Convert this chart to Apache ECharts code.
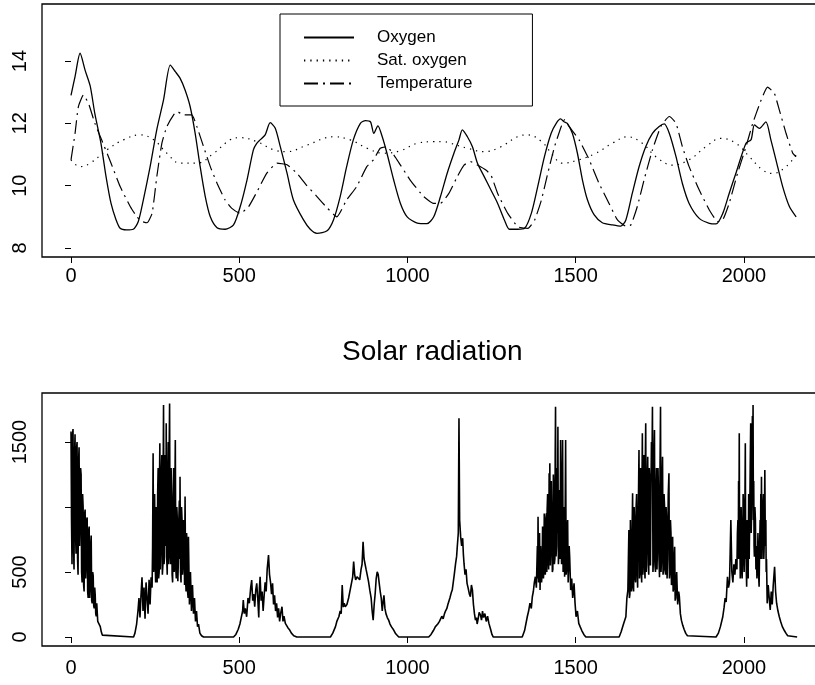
<!DOCTYPE html>
<html>
<head>
<meta charset="utf-8">
<script src="https://cdn.jsdelivr.net/npm/echarts@6/dist/echarts.min.js"></script>
<style>
  html, body { margin: 0; padding: 0; background: #fff; }
  #main { width: 815px; height: 685px; }
</style>
</head>
<body>
<div id="main"></div>
<script>
// 读图得到的数据 [x, 值]
const oxygen = [
  [0, 12.9], [12, 13.5], [27, 14.25], [42, 13.7], [57, 13.2], [71, 12.3], [89, 11.36], [104, 10.3],
  [119, 9.43], [134, 8.9], [146, 8.63], [165, 8.58], [185, 8.6], [200, 8.85], [215, 9.54], [235, 10.6],
  [255, 11.8], [275, 12.75], [295, 13.87], [310, 13.66], [324, 13.45], [339, 13.07], [354, 12.54],
  [369, 11.68], [384, 10.6], [399, 9.65], [414, 9.0], [434, 8.65], [458, 8.6], [483, 8.74], [503, 9.33],
  [523, 10.18], [542, 11.15], [552, 11.36], [562, 11.47], [577, 11.63], [592, 12.02], [607, 11.84],
  [622, 11.25], [642, 10.4], [661, 9.54], [691, 8.9], [711, 8.6], [731, 8.47], [761, 8.55], [780, 8.9],
  [800, 9.65], [819, 10.6], [839, 11.47], [860, 12.0], [875, 12.09], [890, 12.05], [900, 11.68],
  [912, 11.92], [925, 11.57], [939, 11.04], [959, 10.18], [979, 9.43], [999, 9.0], [1029, 8.8],
  [1058, 8.78], [1078, 9.0], [1098, 9.65], [1118, 10.4], [1138, 11.04], [1153, 11.47], [1163, 11.79],
  [1178, 11.57], [1193, 11.25], [1208, 10.72], [1228, 10.29], [1248, 9.86], [1268, 9.43], [1288, 8.9],
  [1303, 8.6], [1328, 8.6], [1348, 8.63], [1368, 9.11], [1387, 9.97], [1407, 10.93], [1427, 11.68],
  [1442, 12.0], [1455, 12.14], [1465, 12.05], [1475, 12.0], [1490, 11.68], [1505, 11.04], [1520, 10.18],
  [1535, 9.54], [1555, 9.06], [1579, 8.81], [1609, 8.74], [1634, 8.7], [1649, 8.9], [1668, 9.75],
  [1688, 10.6], [1708, 11.25], [1728, 11.68], [1748, 11.9], [1763, 11.98], [1778, 11.68], [1798, 10.93],
  [1817, 10.07], [1837, 9.43], [1867, 8.95], [1897, 8.79], [1917, 8.77], [1937, 9.11], [1956, 9.75],
  [1976, 10.4], [2006, 11.36], [2021, 11.47], [2031, 11.95], [2046, 11.84], [2065, 12.05], [2080, 11.47],
  [2095, 10.83], [2115, 9.97], [2135, 9.33], [2155, 9.0]
];

const satOxygen = [
  [0, 10.83], [27, 10.61], [57, 10.72], [107, 11.15], [156, 11.47], [206, 11.63], [246, 11.47],
  [285, 11.04], [324, 10.72], [374, 10.72], [424, 11.04], [473, 11.47], [503, 11.54], [553, 11.41],
  [602, 11.15], [642, 11.09], [701, 11.3], [780, 11.57], [830, 11.47], [880, 11.2], [929, 11.04],
  [979, 11.12], [1029, 11.36], [1078, 11.41], [1107, 11.41], [1128, 11.36], [1178, 11.2], [1228, 11.09],
  [1278, 11.25], [1327, 11.57], [1357, 11.63], [1400, 11.4], [1430, 11.0], [1460, 10.72], [1510, 10.83],
  [1560, 11.04], [1609, 11.36], [1654, 11.57], [1698, 11.36], [1738, 10.93], [1788, 10.66], [1837, 10.83],
  [1887, 11.25], [1932, 11.52], [1976, 11.36], [2016, 10.93], [2056, 10.5], [2085, 10.39], [2125, 10.61],
  [2155, 10.99]
];

const temperature = [
  [0, 10.83], [12, 11.68], [22, 12.54], [37, 12.91], [52, 12.64], [71, 12.0], [91, 11.47], [119, 10.72],
  [146, 9.97], [176, 9.33], [196, 9.0], [211, 8.85], [226, 8.81], [241, 9.11], [255, 10.29], [270, 11.36],
  [285, 11.9], [305, 12.27], [315, 12.38], [335, 12.27], [359, 12.27], [374, 11.9], [394, 11.25],
  [414, 10.61], [434, 10.08], [458, 9.54], [478, 9.27], [503, 9.11], [528, 9.33], [553, 9.81], [582, 10.4],
  [612, 10.72], [642, 10.67], [671, 10.4], [701, 10.0], [731, 9.65], [760, 9.3], [790, 9.0], [819, 9.54],
  [849, 9.97], [879, 10.61], [899, 10.83], [919, 11.2], [939, 11.25], [969, 10.83], [1008, 10.18],
  [1048, 9.65], [1078, 9.43], [1098, 9.43], [1123, 9.75], [1148, 10.29], [1168, 10.66], [1188, 10.77],
  [1208, 10.66], [1233, 10.5], [1248, 10.34], [1268, 9.75], [1298, 9.11], [1328, 8.68], [1358, 8.63],
  [1378, 8.9], [1398, 9.54], [1417, 10.4], [1437, 11.25], [1457, 11.9], [1467, 12.12], [1480, 11.9],
  [1510, 11.47], [1540, 10.83], [1569, 10.08], [1599, 9.43], [1624, 8.9], [1649, 8.7], [1664, 8.74],
  [1683, 9.33], [1703, 10.18], [1728, 11.15], [1753, 11.9], [1778, 12.22], [1798, 12.0], [1817, 11.25],
  [1837, 10.61], [1867, 9.86], [1897, 9.22], [1922, 8.85], [1937, 8.9], [1956, 9.43], [1981, 10.4],
  [2006, 11.25], [2026, 12.0], [2051, 12.75], [2070, 13.16], [2090, 12.97], [2105, 12.43], [2125, 11.68],
  [2145, 11.04], [2155, 10.93]
];

const solar = [
  // 第 1 段
  [0, 1580], [1.5, 900], [3, 560], [4.5, 1550], [6, 1600], [7.5, 700], [9, 520], [10.5, 1400], [12, 1560],
  [13.5, 800], [15, 640], [16.5, 1450], [18, 1500], [19.5, 600], [21, 480], [22.5, 1350], [24, 1460],
  [25.5, 700], [27, 900], [28.5, 1300], [30, 1250], [31.5, 500], [33, 420], [34.5, 1100], [36, 1000],
  [37.5, 400], [39, 350], [40.5, 950], [42, 980], [43.5, 450], [45, 560], [46.5, 900], [48, 920],
  [49.5, 350], [51, 300], [52.5, 820], [54, 850], [55.5, 300], [57, 380], [58.5, 700], [60, 780],
  [61.5, 280], [63, 260], [64.5, 500], [66, 470], [67.5, 240], [69, 220], [70.5, 380], [72, 320],
  [73.5, 180], [75, 160], [76.5, 260], [78, 250], [79.5, 120], [81, 110], [84, 120], [87, 80], [90, 40],
  [93, 15], [96, 0], [186, 0],
  // 第 2 段
  [190, 30], [195, 100], [199, 200], [202, 300], [205, 150], [208, 320], [211, 460], [214, 200],
  [217, 380], [220, 140], [223, 420], [226, 300], [229, 180], [232, 440], [235, 250], [238, 460],
  [241, 380], [242.5, 700], [244, 1413], [245.5, 500], [247, 560], [248.5, 1100], [250, 600], [251.5, 420],
  [253, 1000], [254.5, 650], [256, 420], [257.5, 1100], [259, 1300], [260.5, 450], [262, 500], [263, 1200],
  [264, 1490], [265.5, 520], [267, 700], [268.5, 1250], [270, 1400], [271.5, 480], [273, 550], [274, 1300],
  [275, 1785], [276.5, 560], [278, 620], [279.5, 1400], [281, 1200], [282, 700], [283, 1644], [284.5, 600],
  [286, 480], [287.5, 1200], [289, 1500], [290, 560], [291, 700], [292, 1500], [293, 1797], [294.5, 650],
  [296, 560], [297.5, 1300], [299, 1100], [300.5, 480], [302, 420], [303.5, 1000], [305, 1300], [306.5, 500],
  [308, 600], [309, 1200], [310, 1515], [311.5, 520], [313, 450], [314.5, 1000], [316, 900], [317.5, 430],
  [319, 580], [320.5, 900], [322, 1050], [323, 600], [324, 1233], [325.5, 500], [327, 420], [328.5, 1000],
  [330, 900], [331.5, 480], [333, 560], [334.5, 900], [336, 800], [337.5, 400], [339, 1080], [340.5, 450],
  [342, 350], [343.5, 800], [345, 700], [346.5, 350], [348, 300], [349, 772], [352, 250], [355, 500],
  [358, 200], [361, 400], [364, 180], [367, 300], [370, 120], [373, 200], [376, 80], [379, 100], [383, 30],
  [388, 10], [394, 0], [483, 0],
  // 第 3 段
  [490, 20], [497, 60], [502, 100], [506, 90], [510, 200], [512, 285], [515, 180], [518, 220],
  [522, 156], [526, 300], [530, 260], [534, 380], [537, 438], [540, 280], [543, 330], [546, 233],
  [549, 360], [552, 413], [555, 300], [558, 150], [560, 380], [562, 464], [565, 280], [568, 350],
  [571, 200], [574, 320], [577, 420], [580, 350], [583, 520], [587, 630], [590, 480], [593, 420],
  [596, 330], [599, 413], [602, 250], [605, 320], [608, 200], [611, 259], [614, 150], [617, 220],
  [620, 120], [623, 180], [627, 233], [630, 120], [633, 160], [637, 105], [641, 90], [645, 70],
  [650, 54], [655, 30], [662, 10], [671, 0], [771, 0],
  // 第 4 段
  [778, 30], [786, 80], [790, 120], [796, 156], [800, 200], [803, 180], [806, 400], [809, 230],
  [812, 260], [815, 233], [820, 250], [825, 300], [830, 285], [834, 420], [837, 460], [840, 580],
  [843, 480], [846, 440], [850, 464], [854, 470], [858, 440], [862, 520], [865, 560], [868, 733],
  [871, 600], [874, 560], [877, 520], [880, 515], [884, 430], [888, 360], [892, 300], [895, 200],
  [898, 130], [901, 250], [904, 335], [907, 450], [910, 502], [913, 480], [916, 413], [919, 350],
  [922, 300], [925, 200], [927, 259], [930, 320], [933, 220], [936, 180], [940, 150], [944, 130],
  [948, 100], [952, 80], [959, 54], [965, 25], [974, 0], [1063, 0],
  // 第 5 段
  [1070, 20], [1077, 50], [1083, 80], [1090, 100], [1095, 120], [1098, 130], [1102, 160], [1106, 140],
  [1110, 180], [1113, 200], [1117, 220], [1120, 250], [1123, 259], [1126, 300], [1130, 340], [1133, 361],
  [1136, 420], [1139, 480], [1143, 566], [1146, 620], [1148, 695], [1151, 800], [1153, 1682], [1155, 900],
  [1158, 772], [1161, 700], [1164, 760], [1166, 640], [1168, 566], [1171, 480], [1174, 520], [1177, 413],
  [1180, 380], [1184, 330], [1187, 310], [1190, 400], [1193, 361], [1196, 250], [1199, 180], [1202, 130],
  [1205, 150], [1207, 100], [1210, 140], [1213, 190], [1217, 169], [1220, 130], [1223, 200], [1226, 150],
  [1230, 180], [1234, 120], [1238, 160], [1242, 105], [1247, 60], [1251, 20], [1255, 0], [1341, 0],
  // 第 6 段
  [1348, 50], [1356, 156], [1360, 200], [1364, 260], [1368, 220], [1371, 310], [1374, 350], [1377, 420],
  [1380, 464], [1383, 380], [1386, 700], [1387, 450], [1388, 925], [1389.5, 420], [1391, 480], [1392.5, 800],
  [1394, 361], [1395.5, 700], [1397, 600], [1398.5, 420], [1400, 500], [1401.5, 850], [1403, 746],
  [1404, 450], [1405, 500], [1406.5, 950], [1408, 900], [1409.5, 480], [1411, 560], [1412, 900], [1413, 951],
  [1414, 500], [1415, 977], [1416.5, 1100], [1418, 600], [1419.5, 520], [1421, 1259], [1422, 600],
  [1423, 1336], [1424.5, 550], [1426, 700], [1427.5, 1200], [1429, 874], [1430.5, 500], [1432, 520],
  [1433.5, 1250], [1435, 1100], [1436.5, 560], [1438, 600], [1439, 1400], [1440, 1772], [1441.5, 620],
  [1443, 700], [1444, 1100], [1445, 1300], [1446, 800], [1447, 1618], [1448.5, 560], [1450, 650],
  [1451, 1000], [1452, 1130], [1453.5, 600], [1455, 1515], [1456.5, 700], [1458, 560], [1459.5, 1200],
  [1461, 1515], [1462.5, 500], [1464, 700], [1465.5, 1000], [1467, 464], [1468.5, 900], [1470, 1515],
  [1471.5, 480], [1473, 520], [1474.5, 800], [1476, 900], [1477.5, 420], [1479, 413], [1480.5, 700],
  [1482, 618], [1485, 361], [1488, 450], [1491, 300], [1495, 413], [1498, 259], [1501, 156], [1505, 200],
  [1509, 105], [1513, 80], [1518, 50], [1524, 20], [1530, 0], [1629, 0],
  // 第 7 段
  [1635, 40], [1642, 100], [1649, 156], [1652, 300], [1655, 361], [1656.5, 600], [1658, 823], [1659.5, 300],
  [1661, 330], [1662.5, 900], [1664, 700], [1665.5, 350], [1667, 400], [1668, 900], [1669, 1105],
  [1670.5, 400], [1672, 350], [1673.5, 1000], [1675, 900], [1676.5, 450], [1678, 420], [1679.5, 1000],
  [1681, 1100], [1682.5, 500], [1684, 380], [1685, 800], [1686, 1000], [1687, 1200], [1688, 1438],
  [1689.5, 450], [1691, 500], [1692.5, 1300], [1694, 1200], [1695, 500], [1696, 420], [1697, 1200],
  [1698, 1567], [1699.5, 480], [1701, 600], [1702.5, 1400], [1704, 1300], [1705, 500], [1706, 450],
  [1707, 1400], [1708, 1644], [1709.5, 500], [1711, 700], [1712.5, 1200], [1714, 1387], [1715.5, 550],
  [1717, 480], [1718.5, 1300], [1720, 1200], [1721, 600], [1722, 550], [1723.5, 1100], [1725, 1500],
  [1726.5, 1300], [1728, 1772], [1729.5, 500], [1731, 600], [1732.5, 1400], [1734, 1592], [1735.5, 550],
  [1737, 500], [1738.5, 1100], [1740, 1300], [1741.5, 520], [1743, 700], [1744.5, 1300], [1746, 1100],
  [1747.5, 600], [1749, 460], [1750.5, 1300], [1752, 1772], [1753.5, 500], [1755, 600], [1756.5, 1200],
  [1758, 1387], [1759.5, 480], [1761, 520], [1762.5, 1100], [1764, 1000], [1765.5, 520], [1767, 480],
  [1768.5, 1000], [1770, 900], [1771.5, 450], [1773, 600], [1775, 1100], [1777, 1259], [1778.5, 450],
  [1780, 500], [1781.5, 900], [1783, 800], [1784.5, 400], [1786, 420], [1787, 650], [1788, 772],
  [1789.5, 350], [1791, 380], [1792.5, 600], [1794, 695], [1795.5, 280], [1797, 300], [1800, 500],
  [1803, 250], [1806, 350], [1808, 310], [1811, 180], [1814, 130], [1818, 90], [1822, 60], [1827, 28],
  [1832, 10], [1837, 0], [1917, 0],
  // 第 8 段
  [1924, 30], [1930, 80], [1937, 156], [1941, 230], [1944, 300], [1947, 270], [1951, 464], [1954, 380],
  [1957, 420], [1959, 650], [1961, 900], [1964, 500], [1967, 420], [1970, 560], [1973, 480], [1976, 600],
  [1979, 520], [1980.5, 800], [1982, 900], [1983, 600], [1984, 1200], [1985, 800], [1986, 1567], [1987, 600],
  [1988, 700], [1989, 450], [1990, 515], [1991.5, 1000], [1993, 800], [1994.5, 450], [1996, 600],
  [1997.5, 1100], [1999, 1000], [2000.5, 500], [2002, 700], [2003, 1100], [2004, 1490], [2005, 600],
  [2006, 800], [2007, 500], [2008, 387], [2009.5, 900], [2011, 700], [2012.5, 450], [2014, 1100],
  [2015.5, 600], [2017, 900], [2018.5, 1300], [2020, 1644], [2021.5, 800], [2023, 1000], [2024, 1400],
  [2025, 1700], [2026, 1300], [2027, 1785], [2028, 900], [2029, 1200], [2030, 700], [2031, 618],
  [2032.5, 1000], [2034, 900], [2035.5, 520], [2037, 700], [2038.5, 450], [2040, 520], [2041.5, 800],
  [2043, 600], [2044, 450], [2045, 387], [2046.5, 700], [2048, 900], [2049, 600], [2050, 1100], [2051, 800],
  [2052, 1233], [2053.5, 600], [2055, 800], [2056.5, 1000], [2058, 1100], [2059, 600], [2060, 700],
  [2061, 1000], [2062, 1285], [2063.5, 700], [2065, 900], [2066, 500], [2067, 600], [2069, 259], [2072, 400],
  [2075, 300], [2078, 208], [2081, 350], [2084, 250], [2087, 400], [2091, 541], [2094, 350], [2097, 260],
  [2101, 200], [2105, 156], [2109, 120], [2114, 80], [2120, 50], [2125, 28], [2130, 10], [2135, 0], [2158, 0]
];

const xTicks = [0, 500, 1000, 1500, 2000];
const topYTicks = [8, 10, 12, 14];
const solarYTicks = [0, 500, 1000, 1500];
const solarYLabels = [0, 500, 1500];

var chart = echarts.init(document.getElementById('main'));

const font = 'Liberation Sans';
const plain = function (v) { return String(v); };

function xAxisOf(gridIndex, margin) {
  return {
    type: 'value', gridIndex: gridIndex, min: -86.2, max: 2220,
    axisLine: { show: false },
    splitLine: { show: false },
    axisTick: { show: true, length: 6, customValues: xTicks, lineStyle: { color: '#000' } },
    axisLabel: { customValues: xTicks, formatter: plain, margin: margin, color: '#000', fontSize: 20, fontFamily: font }
  };
}

var option = {
  animation: false,
  backgroundColor: '#fff',
  title: {
    text: 'Solar radiation',
    left: 342, top: 338, padding: 0,
    textStyle: { fontFamily: font, fontSize: 28, fontWeight: 'normal', color: '#000' }
  },
  legend: {
    orient: 'vertical',
    left: 280, top: 14,
    padding: [15, 60, 14, 23],
    itemWidth: 50, itemHeight: 14, itemGap: 6,
    borderColor: '#000', borderWidth: 1, borderRadius: 0,
    itemStyle: { opacity: 0 },
    textStyle: { fontFamily: font, fontSize: 17, color: '#000', padding: [0, 0, 0, 18] },
    data: ['Oxygen', 'Sat. oxygen', 'Temperature']
  },
  grid: [
    { left: 42, top: 4, width: 776, height: 253, outerBoundsMode: 'none', show: true, borderColor: '#000', borderWidth: 1.3 },
    { left: 42, top: 393, width: 776, height: 253, outerBoundsMode: 'none', show: true, borderColor: '#000', borderWidth: 1.3 }
  ],
  xAxis: [xAxisOf(0, 9), xAxisOf(1, 12)],
  yAxis: [
    {
      type: 'value', gridIndex: 0, min: 7.71, max: 15.83,
      axisLine: { show: false }, splitLine: { show: false },
      axisTick: { show: true, length: 6, customValues: topYTicks, lineStyle: { color: '#000' } },
      axisLabel: { customValues: topYTicks, formatter: plain, rotate: 90, margin: 12, color: '#000', fontSize: 20, fontFamily: font }
    },
    {
      type: 'value', gridIndex: 1, min: -69, max: 1877,
      axisLine: { show: false }, splitLine: { show: false },
      axisTick: { show: true, length: 6, customValues: solarYTicks, lineStyle: { color: '#000' } },
      axisLabel: { customValues: solarYLabels, formatter: plain, rotate: 90, margin: 12, color: '#000', fontSize: 20, fontFamily: font }
    }
  ],
  series: [
    {
      name: 'Oxygen', type: 'line', xAxisIndex: 0, yAxisIndex: 0,
      data: oxygen, symbol: 'none', showSymbol: false, smooth: 0.25,
      itemStyle: { color: '#000' },
      lineStyle: { color: '#000', width: 1.3 }
    },
    {
      name: 'Sat. oxygen', type: 'line', xAxisIndex: 0, yAxisIndex: 0,
      data: satOxygen, symbol: 'none', showSymbol: false, smooth: 0.4,
      itemStyle: { color: '#000' },
      lineStyle: { color: '#000', width: 1.2, type: [1.3, 5] }
    },
    {
      name: 'Temperature', type: 'line', xAxisIndex: 0, yAxisIndex: 0,
      data: temperature, symbol: 'none', showSymbol: false, smooth: 0.15,
      itemStyle: { color: '#000' },
      lineStyle: { color: '#000', width: 1.2, type: [14, 5, 2, 5] }
    },
    {
      name: 'Solar', type: 'line', xAxisIndex: 1, yAxisIndex: 1,
      data: solar, symbol: 'none', showSymbol: false,
      itemStyle: { color: '#000' },
      lineStyle: { color: '#000', width: 1.6 }
    }
  ]
};

chart.setOption(option);
</script>
</body>
</html>
